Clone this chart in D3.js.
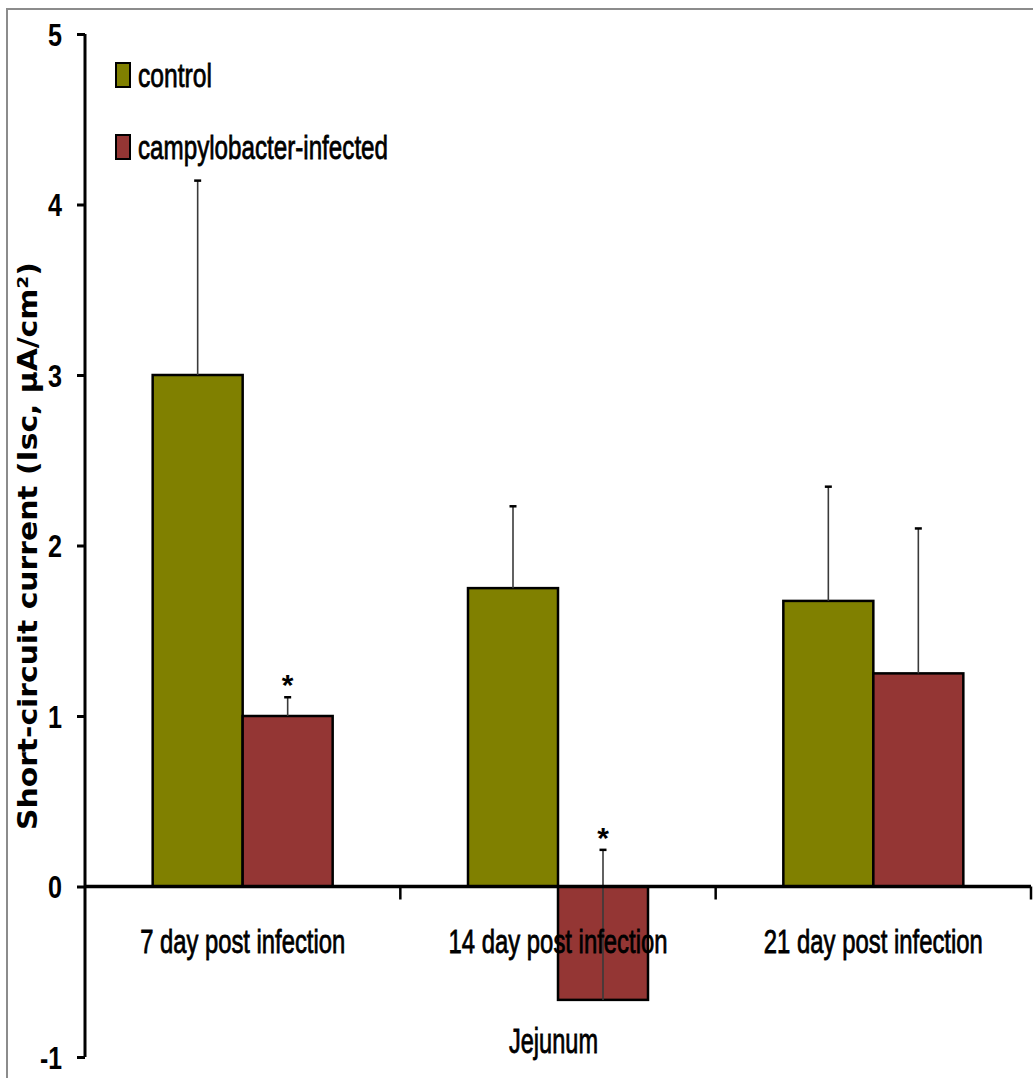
<!DOCTYPE html>
<html>
<head>
<meta charset="utf-8">
<script src="https://cdn.jsdelivr.net/npm/d3@7"></script>
<style>
  html, body { margin: 0; padding: 0; background: #fff; }
  svg { display: block; }
</style>
</head>
<body>
<svg id="chart" width="1033" height="1078"></svg>
<script>
// Short-circuit current in the jejunum, control vs campylobacter-infected
const categories = ["7 day post infection", "14 day post infection", "21 day post infection"];
const seriesNames = ["control", "campylobacter-infected"];
const controlMeans = [3.0, 1.75, 1.675];
const controlErrors = [1.14, 0.48, 0.67];
const infectedMeans = [1.0, -0.665, 1.25];
const infectedErrors = [0.11, 0.88, 0.85];
const infectedMarks = ["*", "*", ""];
const yTicks = [-1, 0, 1, 2, 3, 4, 5];
const yTitle = "Short-circuit current (Isc, \u00b5A/cm\u00b2)";
const xTitle = "Jejunum";
const colors = ["#808000", "#943634"];

const svg = d3.select("#chart");
const FONT = "'Liberation Sans', Arial, sans-serif";
const BOLDFONT = "'DejaVu Sans', sans-serif";

// frame around the figure
svg.append("rect")
  .attr("x", 7).attr("y", 9).attr("width", 1060).attr("height", 1100)
  .attr("fill", "none").attr("stroke", "#8c8c8c").attr("stroke-width", 2);

const plotLeft = 85, plotRight = 1031;
const y = d3.scaleLinear().domain([-1, 5]).range([1057, 34]);
const x0 = d3.scaleBand().domain(categories).range([plotLeft, plotRight]).paddingInner(0).paddingOuter(0);
const barW = 90;
const x1 = d3.scaleBand().domain(seriesNames).range([0, barW * 2]);

const rows = categories.map((c, i) => ({
  cat: c,
  vals: [
    { s: seriesNames[0], v: controlMeans[i], e: controlErrors[i], mark: "" },
    { s: seriesNames[1], v: infectedMeans[i], e: infectedErrors[i], mark: infectedMarks[i] }
  ]
}));

const groupOffset = (x0.bandwidth() - barW * 2) / 2;

const groups = svg.append("g").selectAll("g").data(rows).join("g")
  .attr("transform", d => `translate(${x0(d.cat) + groupOffset},0)`);

// bars
groups.selectAll("rect").data(d => d.vals).join("rect")
  .attr("x", d => x1(d.s))
  .attr("width", x1.bandwidth())
  .attr("y", d => y(Math.max(0, d.v)))
  .attr("height", d => Math.abs(y(d.v) - y(0)))
  .attr("fill", (d, i) => colors[i])
  .attr("stroke", "#000").attr("stroke-width", 2.5);

// error bars (upper)
groups.selectAll("line.err").data(d => d.vals).join("line")
  .attr("class", "err")
  .attr("x1", d => x1(d.s) + x1.bandwidth() / 2)
  .attr("x2", d => x1(d.s) + x1.bandwidth() / 2)
  .attr("y1", d => y(d.v))
  .attr("y2", d => y(d.v + d.e))
  .attr("stroke", "#3a3a3a").attr("stroke-width", 1.6);
groups.selectAll("line.cap").data(d => d.vals).join("line")
  .attr("class", "cap")
  .attr("x1", d => x1(d.s) + x1.bandwidth() / 2 - 3.5)
  .attr("x2", d => x1(d.s) + x1.bandwidth() / 2 + 3.5)
  .attr("y1", d => y(d.v + d.e))
  .attr("y2", d => y(d.v + d.e))
  .attr("stroke", "#000").attr("stroke-width", 2.5);

// significance asterisks
groups.selectAll("text.sig").data(d => d.vals.filter(v => v.mark)).join("text")
  .attr("class", "sig")
  .attr("x", d => x1(d.s) + x1.bandwidth() / 2)
  .attr("y", d => y(d.v + d.e) - 2)
  .attr("text-anchor", "middle")
  .attr("font-family", FONT).attr("font-weight", "bold")
  .attr("font-size", 30)
  .attr("fill", "#000")
  .text(d => d.mark);

// y axis
const yAxis = svg.append("g").attr("transform", `translate(${plotLeft},0)`)
  .call(d3.axisLeft(y).tickValues(yTicks).tickFormat(d => String(d)).tickSize(8).tickSizeOuter(0));
yAxis.select(".domain").attr("stroke", "#000").attr("stroke-width", 3).attr("d", `M0,${y(5)}V${y(-1)}`);
yAxis.selectAll(".tick line").attr("stroke", "#000").attr("stroke-width", 3);
yAxis.selectAll(".tick text")
  .attr("x", -23).attr("dy", "0.36em")
  .attr("font-family", FONT).attr("font-size", 31).attr("font-weight", "bold").attr("fill", "#000")
  .attr("textLength", d => String(d).length === 1 ? 14 : 22)
  .attr("lengthAdjust", "spacingAndGlyphs");

// x axis along zero
const xAxis = svg.append("g").attr("transform", `translate(0,${y(0)})`);
xAxis.append("line")
  .attr("x1", plotLeft).attr("x2", plotRight)
  .attr("stroke", "#000").attr("stroke-width", 3.5);
const bounds = categories.map(c => x0(c) + x0.bandwidth());
xAxis.selectAll("line.tk").data(bounds).join("line")
  .attr("class", "tk")
  .attr("x1", d => d).attr("x2", d => d)
  .attr("y1", 0).attr("y2", 13)
  .attr("stroke", "#000").attr("stroke-width", 2.5);
const catWidths = [205, 219, 219];
// labels are set smaller and stretched vertically to get the tall, narrow letterforms
xAxis.selectAll("text.cat").data(categories).join("text")
  .attr("class", "cat")
  .attr("transform", d => `translate(${x0(d) + x0.bandwidth() / 2},66) scale(1,1.15)`)
  .attr("text-anchor", "middle")
  .attr("font-family", FONT)
  .attr("font-size", 29)
  .attr("textLength", (d, i) => catWidths[i])
  .attr("lengthAdjust", "spacingAndGlyphs")
  .attr("fill", "#000").attr("stroke", "#000").attr("stroke-width", 0.7)
  .text(d => d);

// x title
svg.append("text")
  .attr("transform", "translate(553.5,1053) scale(1,1.15)")
  .attr("text-anchor", "middle")
  .attr("font-family", FONT)
  .attr("font-size", 30)
  .attr("textLength", 89).attr("lengthAdjust", "spacingAndGlyphs")
  .attr("fill", "#000").attr("stroke", "#000").attr("stroke-width", 0.7)
  .text(xTitle);

// y title
svg.append("text")
  .attr("transform", `translate(37,546) rotate(-90)`)
  .attr("text-anchor", "middle")
  .attr("font-family", BOLDFONT)
  .attr("font-size", 26).attr("font-weight", "bold")
  .attr("textLength", 568).attr("lengthAdjust", "spacingAndGlyphs")
  .attr("fill", "#000")
  .text(yTitle);

// legend
const legendWidths = [74, 250];
const legend = svg.append("g").selectAll("g").data(seriesNames).join("g")
  .attr("transform", (d, i) => `translate(116,${63 + i * 72})`);
legend.append("rect")
  .attr("width", 14).attr("height", 24)
  .attr("fill", (d, i) => colors[i])
  .attr("stroke", "#000").attr("stroke-width", 2);
legend.append("text")
  .attr("transform", "translate(22,24) scale(1,1.1)")
  .attr("font-family", FONT)
  .attr("font-size", 30)
  .attr("textLength", (d, i) => legendWidths[i])
  .attr("lengthAdjust", "spacingAndGlyphs")
  .attr("fill", "#000").attr("stroke", "#000").attr("stroke-width", 0.7)
  .text(d => d);
</script>
</body>
</html>
